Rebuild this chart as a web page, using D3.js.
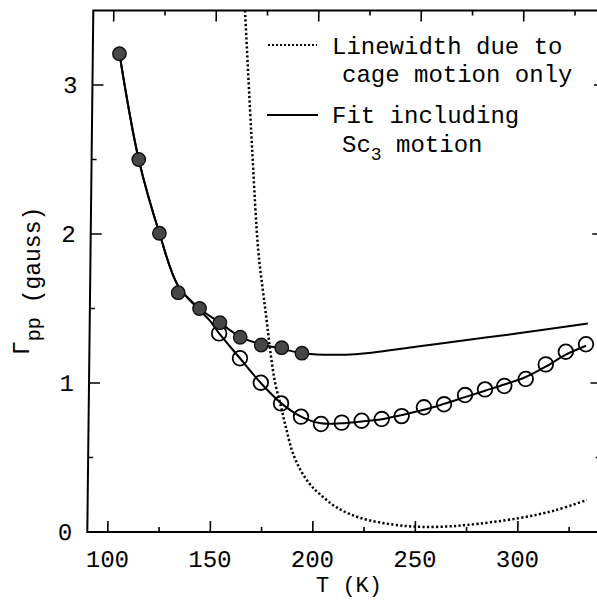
<!DOCTYPE html>
<html>
<head>
<meta charset="utf-8">
<script src="https://cdn.jsdelivr.net/npm/d3@7"></script>
<style>
  body { margin: 0; background: #fff; }
  svg { display: block; }
</style>
</head>
<body>
<div id="chart"></div>
<script>
// ESR linewidth vs temperature
const filledT = [103, 113, 123.5, 133, 143.5, 153.5, 163.5, 173.8, 183.8, 193.7]
const filledG = [3.21, 2.50, 2.005, 1.606, 1.50, 1.405, 1.307, 1.255, 1.237, 1.20]

const openT = [153.2, 163.5, 173.8, 183.8, 193.6, 203.4, 213.5, 223.2, 233, 242.7,
  253.5, 263.3, 273.5, 283.2, 292.6, 303, 312.7, 322.4, 332.2]
const openG = [1.333, 1.166, 1.002, 0.863, 0.774, 0.725, 0.734, 0.747, 0.758, 0.778,
  0.837, 0.857, 0.919, 0.957, 0.98, 1.027, 1.125, 1.21, 1.26]

// fit including Sc3 motion (two branches)
const fitUpperT = [103, 113, 123.5, 133, 143.5, 153.5, 163.5, 173.8, 183.8, 193.7, 205, 215, 225, 250, 275, 300, 333]
const fitUpperG = [3.21, 2.50, 2.005, 1.65, 1.50, 1.405, 1.31, 1.26, 1.23, 1.20, 1.19, 1.19, 1.20, 1.245, 1.29, 1.335, 1.40]
const fitLowerT = [103, 113, 123.5, 133, 143.5, 148.5, 153.2, 163.5, 173.8, 183.8, 193.6, 203.4, 213.5, 223.2,
  233, 242.7, 253.5, 263.3, 273.5, 283.2, 292.6, 303, 312.7, 322.4, 332.2]
const fitLowerG = [3.21, 2.50, 2.005, 1.65, 1.49, 1.42, 1.333, 1.166, 1.0, 0.865, 0.775, 0.73, 0.73, 0.742,
  0.757, 0.785, 0.82, 0.86, 0.905, 0.948, 0.99, 1.04, 1.11, 1.19, 1.25]

// linewidth due to cage motion only
const cageT = [164, 168.3, 171.8, 174.3, 176.3, 178, 180.5, 183.8, 186.5, 189.3, 192, 195, 199, 204,
  211.5, 223, 239, 250, 262, 275, 300, 318, 333.5]
const cageG = [3.5, 2.56, 1.89, 1.62, 1.42, 1.24, 1.02, 0.84, 0.69, 0.55, 0.46, 0.385, 0.31, 0.245,
  0.165, 0.095, 0.05, 0.036, 0.035, 0.047, 0.092, 0.145, 0.215]

const xTicks = [100, 150, 200, 250, 300]
const xMinor = [125, 175, 225, 275, 325]
const yTicks = [0, 1, 2, 3]
const yMinor = [0.5, 1.5, 2.5]

const W = 597, H = 602
const x = d3.scaleLinear().domain([90, 340]).range([87.3, 599.8])
const y = d3.scaleLinear().domain([0, 3.5]).range([532, 10.5])

const svg = d3.select('#chart').append('svg')
  .attr('width', W).attr('height', H)
  .style('font-family', '"Liberation Mono", monospace')

svg.append('rect').attr('width', W).attr('height', H).attr('fill', '#fff')

// the scan is slightly sheared: frame leans right towards the top
const g = svg.append('g')
  .attr('transform', 'translate(0,532) skewX(-0.66) translate(0,-532)')

g.append('clipPath').attr('id', 'plot')
  .append('rect')
  .attr('x', x(90)).attr('y', y(3.5))
  .attr('width', x(340) - x(90)).attr('height', y(0) - y(3.5))

// frame
g.append('rect')
  .attr('x', x(90)).attr('y', y(3.5))
  .attr('width', x(340) - x(90)).attr('height', y(0) - y(3.5))
  .attr('fill', 'none').attr('stroke', '#000').attr('stroke-width', 2)

// ticks on all four sides, pointing in
const tickAttrs = (sel) => sel.attr('stroke', '#000').attr('stroke-width', 1.6)
const xt = xTicks.map((v) => ({ v, len: 11 })).concat(xMinor.map((v) => ({ v, len: 5 })))
const yt = yTicks.map((v) => ({ v, len: 11 })).concat(yMinor.map((v) => ({ v, len: 5 })))

g.append('g').selectAll('line').data(xt).join('line').call(tickAttrs)
  .attr('x1', (d) => x(d.v)).attr('x2', (d) => x(d.v))
  .attr('y1', y(0)).attr('y2', (d) => y(0) - d.len)
g.append('g').selectAll('line').data(xt).join('line').call(tickAttrs)
  .attr('x1', (d) => x(d.v)).attr('x2', (d) => x(d.v))
  .attr('y1', y(3.5)).attr('y2', (d) => y(3.5) + d.len)
g.append('g').selectAll('line').data(yt).join('line').call(tickAttrs)
  .attr('x1', x(90)).attr('x2', (d) => x(90) + d.len)
  .attr('y1', (d) => y(d.v)).attr('y2', (d) => y(d.v))
g.append('g').selectAll('line').data(yt).join('line').call(tickAttrs)
  .attr('x1', x(340)).attr('x2', (d) => x(340) - d.len)
  .attr('y1', (d) => y(d.v)).attr('y2', (d) => y(d.v))

// tick labels
g.append('g').selectAll('text').data(xTicks).join('text')
  .attr('x', (d) => x(d)).attr('y', 567)
  .attr('text-anchor', 'middle')
  .attr('font-size', 24)
  .text((d) => d)
g.append('g').selectAll('text').data(yTicks).join('text')
  .attr('x', x(90) - 15).attr('y', (d) => y(d) + 8)
  .attr('text-anchor', 'end')
  .attr('font-size', 24)
  .text((d) => d)

// curves
const plot = g.append('g').attr('clip-path', 'url(#plot)')
const line = d3.line()
  .x((d) => x(d[0])).y((d) => y(d[1]))
  .curve(d3.curveCatmullRom.alpha(0.5))

plot.append('path')
  .attr('d', line(d3.zip(cageT, cageG)))
  .attr('fill', 'none').attr('stroke', '#000')
  .attr('stroke-width', 2.5).attr('stroke-dasharray', '2.2 2.3')

plot.append('path')
  .attr('d', line(d3.zip(fitUpperT, fitUpperG)))
  .attr('fill', 'none').attr('stroke', '#000').attr('stroke-width', 2)

plot.append('path')
  .attr('d', line(d3.zip(fitLowerT, fitLowerG)))
  .attr('fill', 'none').attr('stroke', '#000').attr('stroke-width', 2)

plot.append('g').selectAll('circle').data(d3.zip(openT, openG)).join('circle')
  .attr('cx', (d) => x(d[0])).attr('cy', (d) => y(d[1]))
  .attr('r', 7.3)
  .attr('fill', 'none').attr('stroke', '#000').attr('stroke-width', 1.8)

plot.append('g').selectAll('circle').data(d3.zip(filledT, filledG)).join('circle')
  .attr('cx', (d) => x(d[0])).attr('cy', (d) => y(d[1]))
  .attr('r', 6.7)
  .attr('fill', '#474747').attr('stroke', '#111').attr('stroke-width', 1.4)

// legend (placed in picture pixels, outside the shear)
const legend = svg.append('g').attr('font-size', 24)
legend.append('line')
  .attr('x1', 268).attr('x2', 317).attr('y1', 45).attr('y2', 45)
  .attr('stroke', '#000').attr('stroke-width', 1.8).attr('stroke-dasharray', '2 2')
legend.append('line')
  .attr('x1', 267).attr('x2', 318).attr('y1', 115).attr('y2', 115)
  .attr('stroke', '#000').attr('stroke-width', 2)
legend.append('text').attr('x', 332).attr('y', 54).text('Linewidth due to')
legend.append('text').attr('x', 342).attr('y', 82).text('cage motion only')
legend.append('text').attr('x', 332).attr('y', 123).text('Fit including')
const sc = legend.append('text').attr('x', 342).attr('y', 152)
sc.append('tspan').text('Sc')
sc.append('tspan').attr('dy', 8).attr('font-size', 18).text('3')
sc.append('tspan').attr('dy', -8).text(' motion')

// axis titles
svg.append('text')
  .attr('x', 349).attr('y', 592)
  .attr('text-anchor', 'middle')
  .attr('font-size', 22)
  .text('T (K)')

const ylab = svg.append('text')
  .attr('transform', 'translate(40,355) rotate(-90)')
  .attr('font-size', 23)
ylab.append('tspan').attr('dy', -11).text('Γ')
ylab.append('tspan').attr('dy', 11).attr('font-size', 20).text('pp')
ylab.append('tspan').text(' (gauss)')
</script>
</body>
</html>
